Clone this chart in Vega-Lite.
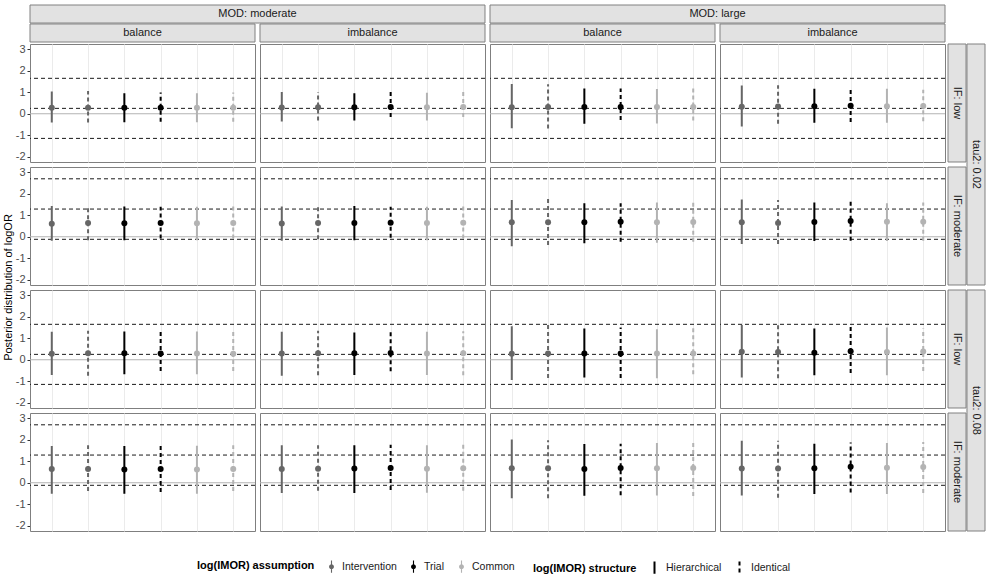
{
"$schema": "https://vega.github.io/schema/vega-lite/v6.json",
"padding": {"left": 3, "top": 4, "right": 0, "bottom": 4},
"columns": 3,
"align": "each",
"spacing": {"row": 0, "column": 0},
"config": {
  "font": "Liberation Sans",
  "view": {"stroke": "#7f7f7f", "strokeWidth": 1},
  "axis": {"gridColor": "#ebebeb", "labelFontSize": 11, "labelColor": "#4d4d4d", "tickColor": "#333333", "tickSize": 3, "domain": false, "labelPadding": 2},
  "legend": {"labelFontSize": 10.5, "titleFontSize": 11, "titleFontWeight": "bold", "labelColor": "#1a1a1a", "titleColor": "#000000", "columnPadding": 10, "titlePadding": 10, "offset": 28, "layout": {"bottom": {"anchor": "middle", "direction": "horizontal", "margin": 18}}}
},
"datasets": {
  "ytitle": [{"lab": "Posterior distribution of logOR"}],
  "tops": [
    {"lvl": "outer", "key": "moderate", "lab": "MOD: moderate"},
    {"lvl": "outer", "key": "large", "lab": "MOD: large"},
    {"lvl": "inner", "key": "moderate|balance", "lab": "balance"},
    {"lvl": "inner", "key": "moderate|imbalance", "lab": "imbalance"},
    {"lvl": "inner", "key": "large|balance", "lab": "balance"},
    {"lvl": "inner", "key": "large|imbalance", "lab": "imbalance"}
  ],
  "sides": [
    {"lvl": "inner", "key": "0.02|low", "lab": "IF: low"},
    {"lvl": "inner", "key": "0.02|moderate", "lab": "IF: moderate"},
    {"lvl": "inner", "key": "0.08|low", "lab": "IF: low"},
    {"lvl": "inner", "key": "0.08|moderate", "lab": "IF: moderate"},
    {"lvl": "outer", "key": "0.02", "lab": "tau2: 0.02"},
    {"lvl": "outer", "key": "0.08", "lab": "tau2: 0.08"}
  ],
  "main": [
    {"t":"e","r":"0.02|low","c":"moderate|balance","k":"I-H","a":"Intervention","s":"Hierarchical","m":0.28,"lo":-0.41,"hi":1.04},
    {"t":"e","r":"0.02|low","c":"moderate|balance","k":"I-I","a":"Intervention","s":"Identical","m":0.28,"lo":-0.41,"hi":1.06},
    {"t":"e","r":"0.02|low","c":"moderate|balance","k":"T-H","a":"Trial","s":"Hierarchical","m":0.28,"lo":-0.40,"hi":0.96},
    {"t":"e","r":"0.02|low","c":"moderate|balance","k":"T-I","a":"Trial","s":"Identical","m":0.28,"lo":-0.37,"hi":0.99},
    {"t":"e","r":"0.02|low","c":"moderate|balance","k":"C-H","a":"Common","s":"Hierarchical","m":0.28,"lo":-0.40,"hi":0.96},
    {"t":"e","r":"0.02|low","c":"moderate|balance","k":"C-I","a":"Common","s":"Identical","m":0.28,"lo":-0.37,"hi":0.99},
    {"t":"e","r":"0.02|low","c":"moderate|imbalance","k":"I-H","a":"Intervention","s":"Hierarchical","m":0.29,"lo":-0.36,"hi":1.01},
    {"t":"e","r":"0.02|low","c":"moderate|imbalance","k":"I-I","a":"Intervention","s":"Identical","m":0.30,"lo":-0.31,"hi":1.01},
    {"t":"e","r":"0.02|low","c":"moderate|imbalance","k":"T-H","a":"Trial","s":"Hierarchical","m":0.30,"lo":-0.31,"hi":0.96},
    {"t":"e","r":"0.02|low","c":"moderate|imbalance","k":"T-I","a":"Trial","s":"Identical","m":0.31,"lo":-0.15,"hi":1.01},
    {"t":"e","r":"0.02|low","c":"moderate|imbalance","k":"C-H","a":"Common","s":"Hierarchical","m":0.30,"lo":-0.31,"hi":0.98},
    {"t":"e","r":"0.02|low","c":"moderate|imbalance","k":"C-I","a":"Common","s":"Identical","m":0.31,"lo":-0.15,"hi":1.01},
    {"t":"e","r":"0.02|low","c":"large|balance","k":"I-H","a":"Intervention","s":"Hierarchical","m":0.30,"lo":-0.68,"hi":1.38},
    {"t":"e","r":"0.02|low","c":"large|balance","k":"I-I","a":"Intervention","s":"Identical","m":0.31,"lo":-0.69,"hi":1.37},
    {"t":"e","r":"0.02|low","c":"large|balance","k":"T-H","a":"Trial","s":"Hierarchical","m":0.31,"lo":-0.47,"hi":1.18},
    {"t":"e","r":"0.02|low","c":"large|balance","k":"T-I","a":"Trial","s":"Identical","m":0.31,"lo":-0.29,"hi":1.18},
    {"t":"e","r":"0.02|low","c":"large|balance","k":"C-H","a":"Common","s":"Hierarchical","m":0.31,"lo":-0.45,"hi":1.15},
    {"t":"e","r":"0.02|low","c":"large|balance","k":"C-I","a":"Common","s":"Identical","m":0.31,"lo":-0.31,"hi":1.18},
    {"t":"e","r":"0.02|low","c":"large|imbalance","k":"I-H","a":"Intervention","s":"Hierarchical","m":0.32,"lo":-0.60,"hi":1.32},
    {"t":"e","r":"0.02|low","c":"large|imbalance","k":"I-I","a":"Intervention","s":"Identical","m":0.34,"lo":-0.47,"hi":1.33},
    {"t":"e","r":"0.02|low","c":"large|imbalance","k":"T-H","a":"Trial","s":"Hierarchical","m":0.35,"lo":-0.42,"hi":1.16},
    {"t":"e","r":"0.02|low","c":"large|imbalance","k":"T-I","a":"Trial","s":"Identical","m":0.37,"lo":-0.38,"hi":1.11},
    {"t":"e","r":"0.02|low","c":"large|imbalance","k":"C-H","a":"Common","s":"Hierarchical","m":0.35,"lo":-0.42,"hi":1.16},
    {"t":"e","r":"0.02|low","c":"large|imbalance","k":"C-I","a":"Common","s":"Identical","m":0.36,"lo":-0.35,"hi":1.12},

    {"t":"e","r":"0.02|moderate","c":"moderate|balance","k":"I-H","a":"Intervention","s":"Hierarchical","m":0.61,"lo":-0.19,"hi":1.43},
    {"t":"e","r":"0.02|moderate","c":"moderate|balance","k":"I-I","a":"Intervention","s":"Identical","m":0.64,"lo":-0.16,"hi":1.45},
    {"t":"e","r":"0.02|moderate","c":"moderate|balance","k":"T-H","a":"Trial","s":"Hierarchical","m":0.63,"lo":-0.16,"hi":1.41},
    {"t":"e","r":"0.02|moderate","c":"moderate|balance","k":"T-I","a":"Trial","s":"Identical","m":0.64,"lo":-0.08,"hi":1.40},
    {"t":"e","r":"0.02|moderate","c":"moderate|balance","k":"C-H","a":"Common","s":"Hierarchical","m":0.63,"lo":-0.16,"hi":1.40},
    {"t":"e","r":"0.02|moderate","c":"moderate|balance","k":"C-I","a":"Common","s":"Identical","m":0.64,"lo":-0.08,"hi":1.41},
    {"t":"e","r":"0.02|moderate","c":"moderate|imbalance","k":"I-H","a":"Intervention","s":"Hierarchical","m":0.62,"lo":-0.19,"hi":1.41},
    {"t":"e","r":"0.02|moderate","c":"moderate|imbalance","k":"I-I","a":"Intervention","s":"Identical","m":0.64,"lo":-0.12,"hi":1.43},
    {"t":"e","r":"0.02|moderate","c":"moderate|imbalance","k":"T-H","a":"Trial","s":"Hierarchical","m":0.64,"lo":-0.16,"hi":1.43},
    {"t":"e","r":"0.02|moderate","c":"moderate|imbalance","k":"T-I","a":"Trial","s":"Identical","m":0.65,"lo":-0.05,"hi":1.40},
    {"t":"e","r":"0.02|moderate","c":"moderate|imbalance","k":"C-H","a":"Common","s":"Hierarchical","m":0.64,"lo":-0.16,"hi":1.40},
    {"t":"e","r":"0.02|moderate","c":"moderate|imbalance","k":"C-I","a":"Common","s":"Identical","m":0.65,"lo":-0.08,"hi":1.43},
    {"t":"e","r":"0.02|moderate","c":"large|balance","k":"I-H","a":"Intervention","s":"Hierarchical","m":0.67,"lo":-0.44,"hi":1.71},
    {"t":"e","r":"0.02|moderate","c":"large|balance","k":"I-I","a":"Intervention","s":"Identical","m":0.67,"lo":-0.39,"hi":1.77},
    {"t":"e","r":"0.02|moderate","c":"large|balance","k":"T-H","a":"Trial","s":"Hierarchical","m":0.67,"lo":-0.30,"hi":1.56},
    {"t":"e","r":"0.02|moderate","c":"large|balance","k":"T-I","a":"Trial","s":"Identical","m":0.70,"lo":-0.23,"hi":1.56},
    {"t":"e","r":"0.02|moderate","c":"large|balance","k":"C-H","a":"Common","s":"Hierarchical","m":0.68,"lo":-0.28,"hi":1.59},
    {"t":"e","r":"0.02|moderate","c":"large|balance","k":"C-I","a":"Common","s":"Identical","m":0.69,"lo":-0.23,"hi":1.59},
    {"t":"e","r":"0.02|moderate","c":"large|imbalance","k":"I-H","a":"Intervention","s":"Hierarchical","m":0.67,"lo":-0.34,"hi":1.74},
    {"t":"e","r":"0.02|moderate","c":"large|imbalance","k":"I-I","a":"Intervention","s":"Identical","m":0.64,"lo":-0.34,"hi":1.71},
    {"t":"e","r":"0.02|moderate","c":"large|imbalance","k":"T-H","a":"Trial","s":"Hierarchical","m":0.69,"lo":-0.20,"hi":1.59},
    {"t":"e","r":"0.02|moderate","c":"large|imbalance","k":"T-I","a":"Trial","s":"Identical","m":0.73,"lo":-0.19,"hi":1.64},
    {"t":"e","r":"0.02|moderate","c":"large|imbalance","k":"C-H","a":"Common","s":"Hierarchical","m":0.70,"lo":-0.20,"hi":1.56},
    {"t":"e","r":"0.02|moderate","c":"large|imbalance","k":"C-I","a":"Common","s":"Identical","m":0.70,"lo":-0.19,"hi":1.59},

    {"t":"e","r":"0.08|low","c":"moderate|balance","k":"I-H","a":"Intervention","s":"Hierarchical","m":0.28,"lo":-0.71,"hi":1.30},
    {"t":"e","r":"0.08|low","c":"moderate|balance","k":"I-I","a":"Intervention","s":"Identical","m":0.30,"lo":-0.75,"hi":1.35},
    {"t":"e","r":"0.08|low","c":"moderate|balance","k":"T-H","a":"Trial","s":"Hierarchical","m":0.30,"lo":-0.68,"hi":1.32},
    {"t":"e","r":"0.08|low","c":"moderate|balance","k":"T-I","a":"Trial","s":"Identical","m":0.29,"lo":-0.52,"hi":1.32},
    {"t":"e","r":"0.08|low","c":"moderate|balance","k":"C-H","a":"Common","s":"Hierarchical","m":0.29,"lo":-0.68,"hi":1.32},
    {"t":"e","r":"0.08|low","c":"moderate|balance","k":"C-I","a":"Common","s":"Identical","m":0.28,"lo":-0.52,"hi":1.32},
    {"t":"e","r":"0.08|low","c":"moderate|imbalance","k":"I-H","a":"Intervention","s":"Hierarchical","m":0.29,"lo":-0.75,"hi":1.30},
    {"t":"e","r":"0.08|low","c":"moderate|imbalance","k":"I-I","a":"Intervention","s":"Identical","m":0.30,"lo":-0.72,"hi":1.35},
    {"t":"e","r":"0.08|low","c":"moderate|imbalance","k":"T-H","a":"Trial","s":"Hierarchical","m":0.30,"lo":-0.71,"hi":1.27},
    {"t":"e","r":"0.08|low","c":"moderate|imbalance","k":"T-I","a":"Trial","s":"Identical","m":0.31,"lo":-0.54,"hi":1.32},
    {"t":"e","r":"0.08|low","c":"moderate|imbalance","k":"C-H","a":"Common","s":"Hierarchical","m":0.29,"lo":-0.71,"hi":1.30},
    {"t":"e","r":"0.08|low","c":"moderate|imbalance","k":"C-I","a":"Common","s":"Identical","m":0.30,"lo":-0.72,"hi":1.33},
    {"t":"e","r":"0.08|low","c":"large|balance","k":"I-H","a":"Intervention","s":"Hierarchical","m":0.28,"lo":-0.94,"hi":1.56},
    {"t":"e","r":"0.08|low","c":"large|balance","k":"I-I","a":"Intervention","s":"Identical","m":0.29,"lo":-0.85,"hi":1.63},
    {"t":"e","r":"0.08|low","c":"large|balance","k":"T-H","a":"Trial","s":"Hierarchical","m":0.29,"lo":-0.83,"hi":1.46},
    {"t":"e","r":"0.08|low","c":"large|balance","k":"T-I","a":"Trial","s":"Identical","m":0.29,"lo":-0.85,"hi":1.50},
    {"t":"e","r":"0.08|low","c":"large|balance","k":"C-H","a":"Common","s":"Hierarchical","m":0.29,"lo":-0.86,"hi":1.42},
    {"t":"e","r":"0.08|low","c":"large|balance","k":"C-I","a":"Common","s":"Identical","m":0.29,"lo":-0.68,"hi":1.49},
    {"t":"e","r":"0.08|low","c":"large|imbalance","k":"I-H","a":"Intervention","s":"Hierarchical","m":0.37,"lo":-0.83,"hi":1.62},
    {"t":"e","r":"0.08|low","c":"large|imbalance","k":"I-I","a":"Intervention","s":"Identical","m":0.36,"lo":-0.86,"hi":1.66},
    {"t":"e","r":"0.08|low","c":"large|imbalance","k":"T-H","a":"Trial","s":"Hierarchical","m":0.32,"lo":-0.72,"hi":1.45},
    {"t":"e","r":"0.08|low","c":"large|imbalance","k":"T-I","a":"Trial","s":"Identical","m":0.40,"lo":-0.62,"hi":1.52},
    {"t":"e","r":"0.08|low","c":"large|imbalance","k":"C-H","a":"Common","s":"Hierarchical","m":0.36,"lo":-0.72,"hi":1.50},
    {"t":"e","r":"0.08|low","c":"large|imbalance","k":"C-I","a":"Common","s":"Identical","m":0.38,"lo":-0.52,"hi":1.45},

    {"t":"e","r":"0.08|moderate","c":"moderate|balance","k":"I-H","a":"Intervention","s":"Hierarchical","m":0.64,"lo":-0.51,"hi":1.71},
    {"t":"e","r":"0.08|moderate","c":"moderate|balance","k":"I-I","a":"Intervention","s":"Identical","m":0.64,"lo":-0.38,"hi":1.75},
    {"t":"e","r":"0.08|moderate","c":"moderate|balance","k":"T-H","a":"Trial","s":"Hierarchical","m":0.62,"lo":-0.51,"hi":1.71},
    {"t":"e","r":"0.08|moderate","c":"moderate|balance","k":"T-I","a":"Trial","s":"Identical","m":0.64,"lo":-0.43,"hi":1.71},
    {"t":"e","r":"0.08|moderate","c":"moderate|balance","k":"C-H","a":"Common","s":"Hierarchical","m":0.62,"lo":-0.51,"hi":1.72},
    {"t":"e","r":"0.08|moderate","c":"moderate|balance","k":"C-I","a":"Common","s":"Identical","m":0.64,"lo":-0.38,"hi":1.75},
    {"t":"e","r":"0.08|moderate","c":"moderate|imbalance","k":"I-H","a":"Intervention","s":"Hierarchical","m":0.64,"lo":-0.48,"hi":1.75},
    {"t":"e","r":"0.08|moderate","c":"moderate|imbalance","k":"I-I","a":"Intervention","s":"Identical","m":0.65,"lo":-0.37,"hi":1.75},
    {"t":"e","r":"0.08|moderate","c":"moderate|imbalance","k":"T-H","a":"Trial","s":"Hierarchical","m":0.66,"lo":-0.48,"hi":1.75},
    {"t":"e","r":"0.08|moderate","c":"moderate|imbalance","k":"T-I","a":"Trial","s":"Identical","m":0.69,"lo":-0.34,"hi":1.77},
    {"t":"e","r":"0.08|moderate","c":"moderate|imbalance","k":"C-H","a":"Common","s":"Hierarchical","m":0.65,"lo":-0.47,"hi":1.75},
    {"t":"e","r":"0.08|moderate","c":"moderate|imbalance","k":"C-I","a":"Common","s":"Identical","m":0.67,"lo":-0.37,"hi":1.78},
    {"t":"e","r":"0.08|moderate","c":"large|balance","k":"I-H","a":"Intervention","s":"Hierarchical","m":0.67,"lo":-0.72,"hi":2.01},
    {"t":"e","r":"0.08|moderate","c":"large|balance","k":"I-I","a":"Intervention","s":"Identical","m":0.68,"lo":-0.72,"hi":1.98},
    {"t":"e","r":"0.08|moderate","c":"large|balance","k":"T-H","a":"Trial","s":"Hierarchical","m":0.64,"lo":-0.61,"hi":1.81},
    {"t":"e","r":"0.08|moderate","c":"large|balance","k":"T-I","a":"Trial","s":"Identical","m":0.69,"lo":-0.58,"hi":1.82},
    {"t":"e","r":"0.08|moderate","c":"large|balance","k":"C-H","a":"Common","s":"Hierarchical","m":0.67,"lo":-0.59,"hi":1.85},
    {"t":"e","r":"0.08|moderate","c":"large|balance","k":"C-I","a":"Common","s":"Identical","m":0.69,"lo":-0.62,"hi":1.88},
    {"t":"e","r":"0.08|moderate","c":"large|imbalance","k":"I-H","a":"Intervention","s":"Hierarchical","m":0.66,"lo":-0.59,"hi":1.96},
    {"t":"e","r":"0.08|moderate","c":"large|imbalance","k":"I-I","a":"Intervention","s":"Identical","m":0.66,"lo":-0.70,"hi":1.96},
    {"t":"e","r":"0.08|moderate","c":"large|imbalance","k":"T-H","a":"Trial","s":"Hierarchical","m":0.68,"lo":-0.53,"hi":1.82},
    {"t":"e","r":"0.08|moderate","c":"large|imbalance","k":"T-I","a":"Trial","s":"Identical","m":0.74,"lo":-0.46,"hi":1.88},
    {"t":"e","r":"0.08|moderate","c":"large|imbalance","k":"C-H","a":"Common","s":"Hierarchical","m":0.70,"lo":-0.53,"hi":1.85},
    {"t":"e","r":"0.08|moderate","c":"large|imbalance","k":"C-I","a":"Common","s":"Identical","m":0.73,"lo":-0.48,"hi":1.90},

    {"t":"r","r":"0.02|low","c":"moderate|balance","l":"lo","v":-1.15},
    {"t":"r","r":"0.02|low","c":"moderate|balance","l":"mid","v":0.25},
    {"t":"r","r":"0.02|low","c":"moderate|balance","l":"hi","v":1.65},
    {"t":"r","r":"0.02|low","c":"moderate|imbalance","l":"lo","v":-1.15},
    {"t":"r","r":"0.02|low","c":"moderate|imbalance","l":"mid","v":0.25},
    {"t":"r","r":"0.02|low","c":"moderate|imbalance","l":"hi","v":1.65},
    {"t":"r","r":"0.02|low","c":"large|balance","l":"lo","v":-1.15},
    {"t":"r","r":"0.02|low","c":"large|balance","l":"mid","v":0.25},
    {"t":"r","r":"0.02|low","c":"large|balance","l":"hi","v":1.65},
    {"t":"r","r":"0.02|low","c":"large|imbalance","l":"lo","v":-1.15},
    {"t":"r","r":"0.02|low","c":"large|imbalance","l":"mid","v":0.25},
    {"t":"r","r":"0.02|low","c":"large|imbalance","l":"hi","v":1.65},
    {"t":"r","r":"0.02|moderate","c":"moderate|balance","l":"lo","v":-0.12},
    {"t":"r","r":"0.02|moderate","c":"moderate|balance","l":"mid","v":1.29},
    {"t":"r","r":"0.02|moderate","c":"moderate|balance","l":"hi","v":2.70},
    {"t":"r","r":"0.02|moderate","c":"moderate|imbalance","l":"lo","v":-0.12},
    {"t":"r","r":"0.02|moderate","c":"moderate|imbalance","l":"mid","v":1.29},
    {"t":"r","r":"0.02|moderate","c":"moderate|imbalance","l":"hi","v":2.70},
    {"t":"r","r":"0.02|moderate","c":"large|balance","l":"lo","v":-0.12},
    {"t":"r","r":"0.02|moderate","c":"large|balance","l":"mid","v":1.29},
    {"t":"r","r":"0.02|moderate","c":"large|balance","l":"hi","v":2.70},
    {"t":"r","r":"0.02|moderate","c":"large|imbalance","l":"lo","v":-0.12},
    {"t":"r","r":"0.02|moderate","c":"large|imbalance","l":"mid","v":1.29},
    {"t":"r","r":"0.02|moderate","c":"large|imbalance","l":"hi","v":2.70},
    {"t":"r","r":"0.08|low","c":"moderate|balance","l":"lo","v":-1.15},
    {"t":"r","r":"0.08|low","c":"moderate|balance","l":"mid","v":0.25},
    {"t":"r","r":"0.08|low","c":"moderate|balance","l":"hi","v":1.65},
    {"t":"r","r":"0.08|low","c":"moderate|imbalance","l":"lo","v":-1.15},
    {"t":"r","r":"0.08|low","c":"moderate|imbalance","l":"mid","v":0.25},
    {"t":"r","r":"0.08|low","c":"moderate|imbalance","l":"hi","v":1.65},
    {"t":"r","r":"0.08|low","c":"large|balance","l":"lo","v":-1.15},
    {"t":"r","r":"0.08|low","c":"large|balance","l":"mid","v":0.25},
    {"t":"r","r":"0.08|low","c":"large|balance","l":"hi","v":1.65},
    {"t":"r","r":"0.08|low","c":"large|imbalance","l":"lo","v":-1.15},
    {"t":"r","r":"0.08|low","c":"large|imbalance","l":"mid","v":0.25},
    {"t":"r","r":"0.08|low","c":"large|imbalance","l":"hi","v":1.65},
    {"t":"r","r":"0.08|moderate","c":"moderate|balance","l":"lo","v":-0.12},
    {"t":"r","r":"0.08|moderate","c":"moderate|balance","l":"mid","v":1.29},
    {"t":"r","r":"0.08|moderate","c":"moderate|balance","l":"hi","v":2.70},
    {"t":"r","r":"0.08|moderate","c":"moderate|imbalance","l":"lo","v":-0.12},
    {"t":"r","r":"0.08|moderate","c":"moderate|imbalance","l":"mid","v":1.29},
    {"t":"r","r":"0.08|moderate","c":"moderate|imbalance","l":"hi","v":2.70},
    {"t":"r","r":"0.08|moderate","c":"large|balance","l":"lo","v":-0.12},
    {"t":"r","r":"0.08|moderate","c":"large|balance","l":"mid","v":1.29},
    {"t":"r","r":"0.08|moderate","c":"large|balance","l":"hi","v":2.70},
    {"t":"r","r":"0.08|moderate","c":"large|imbalance","l":"lo","v":-0.12},
    {"t":"r","r":"0.08|moderate","c":"large|imbalance","l":"mid","v":1.29},
    {"t":"r","r":"0.08|moderate","c":"large|imbalance","l":"hi","v":2.70}
  ]
},
"concat": [
  {
    "data": {"values": []},
    "width": 12, "height": 37,
    "view": {"stroke": null},
    "mark": {"type": "point", "opacity": 0}
  },
  {
    "data": {"name": "tops"},
    "width": 915, "height": 37,
    "view": {"stroke": null},
    "encoding": {"y": {"field": "lvl", "type": "nominal", "scale": {"domain": ["outer", "inner"], "paddingInner": 0.05, "paddingOuter": 0}, "axis": null}},
    "layer": [
      {
        "transform": [{"filter": "datum.lvl == 'outer'"}],
        "encoding": {"x": {"field": "key", "type": "nominal", "scale": {"domain": ["moderate", "large"], "paddingInner": 0.01087, "paddingOuter": 0}, "axis": null}},
        "layer": [
          {"mark": {"type": "rect", "fill": "#e2e2e2", "stroke": "#808080", "strokeWidth": 1}},
          {"mark": {"type": "text", "fontSize": 11, "color": "#1a1a1a"}, "encoding": {"text": {"field": "lab"}}}
        ]
      },
      {
        "transform": [{"filter": "datum.lvl == 'inner'"}],
        "encoding": {"x": {"field": "key", "type": "nominal", "scale": {"domain": ["moderate|balance", "moderate|imbalance", "large|balance", "large|imbalance"], "paddingInner": 0.0217, "paddingOuter": 0}, "axis": null}},
        "layer": [
          {"mark": {"type": "rect", "fill": "#e2e2e2", "stroke": "#808080", "strokeWidth": 1}},
          {"mark": {"type": "text", "fontSize": 11, "color": "#1a1a1a"}, "encoding": {"text": {"field": "lab"}}}
        ]
      }
    ],
    "resolve": {"scale": {"x": "independent"}}
  },
  {
    "data": {"values": []},
    "width": 37, "height": 37,
    "view": {"stroke": null},
    "mark": {"type": "point", "opacity": 0}
  },
  {
    "data": {"name": "ytitle"},
    "width": 12, "height": 487,
    "view": {"stroke": null},
    "mark": {"type": "text", "angle": -90, "fontSize": 11, "color": "#000000"},
    "encoding": {"text": {"field": "lab"}}
  },
  {
    "data": {"name": "main"},
    "bounds": "flush",
    "facet": {
      "row": {"field": "r", "type": "nominal", "sort": ["0.02|low", "0.02|moderate", "0.08|low", "0.08|moderate"], "title": null, "header": {"labels": false}},
      "column": {"field": "c", "type": "nominal", "sort": ["moderate|balance", "moderate|imbalance", "large|balance", "large|imbalance"], "title": null, "header": {"labels": false}}
    },
    "spacing": {"row": 5, "column": 5},
    "spec": {
      "width": 225, "height": 118,
      "layer": [
        {
          "transform": [{"filter": "datum.t == 'r' && datum.l == 'mid'"}],
          "mark": {"type": "rule", "color": "#b3b3b3", "strokeWidth": 1.2},
          "encoding": {"y": {"datum": 0, "type": "quantitative", "scale": {"domain": [-2.25, 3.25], "nice": false, "zero": false}, "axis": {"title": null, "values": [-2, -1.5, -1, -0.5, 0, 0.5, 1, 1.5, 2, 2.5, 3], "labelExpr": "datum.value % 1 == 0 ? '' + datum.value : ''", "tickOpacity": {"condition": {"test": "datum.value % 1 != 0", "value": 0}, "value": 1}, "gridWidth": {"condition": {"test": "datum.value % 1 != 0", "value": 0.6}, "value": 1.1}}}}
        },
        {
          "transform": [{"filter": "datum.t == 'r'"}],
          "mark": {"type": "rule", "color": "#1a1a1a", "strokeDash": [4, 3], "strokeWidth": 1},
          "encoding": {"y": {"field": "v", "type": "quantitative", "scale": {"domain": [-2.25, 3.25], "nice": false, "zero": false}, "axis": {"title": null, "values": [-2, -1.5, -1, -0.5, 0, 0.5, 1, 1.5, 2, 2.5, 3], "labelExpr": "datum.value % 1 == 0 ? '' + datum.value : ''", "tickOpacity": {"condition": {"test": "datum.value % 1 != 0", "value": 0}, "value": 1}, "gridWidth": {"condition": {"test": "datum.value % 1 != 0", "value": 0.6}, "value": 1.1}}}}
        },
        {
          "transform": [{"filter": "datum.t == 'e'"}],
          "mark": {"type": "point", "filled": true, "size": 36, "opacity": 1},
          "encoding": {
            "x": {"field": "k", "type": "nominal", "scale": {"type": "point", "domain": ["I-H", "I-I", "T-H", "T-I", "C-H", "C-I"], "padding": 0.6}, "axis": {"labels": false, "ticks": false, "domain": false, "title": null, "grid": true}},
            "y": {"field": "m", "type": "quantitative", "scale": {"domain": [-2.25, 3.25], "nice": false, "zero": false}, "axis": {"title": null, "values": [-2, -1.5, -1, -0.5, 0, 0.5, 1, 1.5, 2, 2.5, 3], "labelExpr": "datum.value % 1 == 0 ? '' + datum.value : ''", "tickOpacity": {"condition": {"test": "datum.value % 1 != 0", "value": 0}, "value": 1}, "gridWidth": {"condition": {"test": "datum.value % 1 != 0", "value": 0.6}, "value": 1.1}}},
            "color": {"field": "a", "type": "nominal", "scale": {"domain": ["Intervention", "Trial", "Common"], "range": ["#666666", "#000000", "#b3b3b3"]}, "legend": {"title": "log(IMOR) assumption", "orient": "bottom", "direction": "horizontal", "titleOrient": "left", "symbolType": "M-0.09,-1L0.09,-1L0.09,1L-0.09,1Z M-0.4,0A0.4,0.4,0,1,1,0.4,0A0.4,0.4,0,1,1,-0.4,0Z", "symbolSize": 150, "symbolStrokeWidth": 0}}
          }
        },
        {
          "transform": [{"filter": "datum.t == 'e'"}],
          "mark": {"type": "rule", "strokeWidth": 2},
          "encoding": {
            "x": {"field": "k", "type": "nominal", "scale": {"type": "point", "domain": ["I-H", "I-I", "T-H", "T-I", "C-H", "C-I"], "padding": 0.6}, "axis": {"labels": false, "ticks": false, "domain": false, "title": null, "grid": true}},
            "y": {"field": "lo", "type": "quantitative", "scale": {"domain": [-2.25, 3.25], "nice": false, "zero": false}, "axis": {"title": null, "values": [-2, -1.5, -1, -0.5, 0, 0.5, 1, 1.5, 2, 2.5, 3], "labelExpr": "datum.value % 1 == 0 ? '' + datum.value : ''", "tickOpacity": {"condition": {"test": "datum.value % 1 != 0", "value": 0}, "value": 1}, "gridWidth": {"condition": {"test": "datum.value % 1 != 0", "value": 0.6}, "value": 1.1}}},
            "y2": {"field": "hi"},
            "color": {"field": "a", "type": "nominal", "scale": {"domain": ["Intervention", "Trial", "Common"], "range": ["#666666", "#000000", "#b3b3b3"]}},
            "strokeDash": {"field": "s", "type": "nominal", "scale": {"domain": ["Hierarchical", "Identical"], "range": [[1, 0], [4, 3]]}, "legend": {"title": "log(IMOR) structure", "orient": "bottom", "direction": "horizontal", "titleOrient": "left", "symbolType": "M0,-1L0,1", "symbolStrokeColor": "#000000", "symbolStrokeWidth": 2, "symbolSize": 150}}
          }
        }
      ]
    }
  },
  {
    "data": {"name": "sides"},
    "width": 37, "height": 487,
    "view": {"stroke": null},
    "encoding": {"x": {"field": "lvl", "type": "nominal", "scale": {"domain": ["inner", "outer"], "paddingInner": 0.05, "paddingOuter": 0}, "axis": null}},
    "layer": [
      {
        "transform": [{"filter": "datum.lvl == 'inner'"}],
        "encoding": {"y": {"field": "key", "type": "nominal", "scale": {"domain": ["0.02|low", "0.02|moderate", "0.08|low", "0.08|moderate"], "paddingInner": 0.0407, "paddingOuter": 0}, "axis": null}},
        "layer": [
          {"mark": {"type": "rect", "fill": "#e2e2e2", "stroke": "#808080", "strokeWidth": 1}},
          {"mark": {"type": "text", "fontSize": 11, "color": "#1a1a1a", "angle": 90}, "encoding": {"text": {"field": "lab"}}}
        ]
      },
      {
        "transform": [{"filter": "datum.lvl == 'outer'"}],
        "encoding": {"y": {"field": "key", "type": "nominal", "scale": {"domain": ["0.02", "0.08"], "paddingInner": 0.0203, "paddingOuter": 0}, "axis": null}},
        "layer": [
          {"mark": {"type": "rect", "fill": "#e2e2e2", "stroke": "#808080", "strokeWidth": 1}},
          {"mark": {"type": "text", "fontSize": 11, "color": "#1a1a1a", "angle": 90}, "encoding": {"text": {"field": "lab"}}}
        ]
      }
    ],
    "resolve": {"scale": {"y": "independent"}}
  }
]
}
